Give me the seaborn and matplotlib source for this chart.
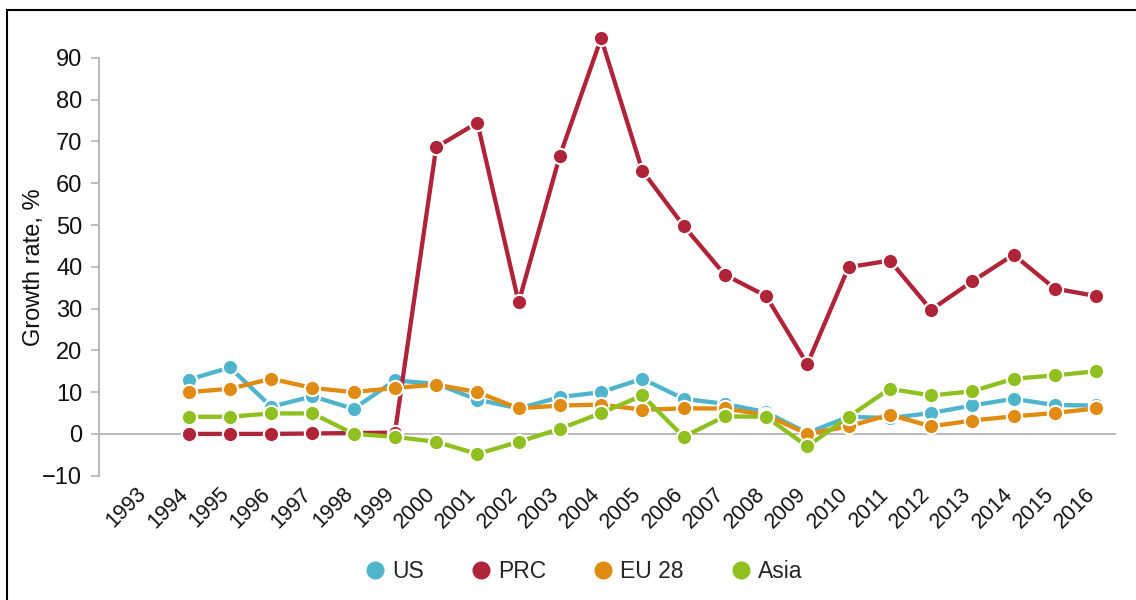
import matplotlib
matplotlib.use("Agg")
import matplotlib.pyplot as plt
from matplotlib.lines import Line2D
from matplotlib.transforms import ScaledTranslation
import numpy as np
import pandas as pd
import seaborn as sns

# Annual growth rates, %
years = list(range(1994, 2017))
us = [13.0, 15.9, 6.5, 9.0, 6.0, 12.8, 12.0, 8.2, 6.1, 8.8, 10.0, 13.2,
      8.4, 7.2, 5.2, 0.2, 4.1, 3.8, 5.0, 6.8, 8.4, 6.9, 6.8]
prc = [0.0, 0.0, 0.0, 0.1, 0.2, 0.3, 68.6, 74.5, 31.5, 66.6, 94.7, 63.0,
       49.8, 38.1, 33.0, 16.7, 39.9, 41.5, 29.7, 36.5, 42.9, 34.8, 33.0]
eu28 = [10.0, 10.8, 13.2, 11.0, 10.0, 11.0, 11.8, 10.0, 6.1, 6.8, 7.0, 5.8,
        6.1, 6.1, 4.5, 0.0, 1.8, 4.6, 1.8, 3.2, 4.2, 5.0, 6.1]
asia = [4.1, 4.1, 4.9, 4.9, 0.0, -0.7, -1.9, -4.8, -1.9, 1.2, 5.0, 9.2,
        -0.7, 4.2, 4.1, -3.0, 4.1, 10.8, 9.2, 10.2, 13.2, 14.0, 15.0]

series_names = ["US", "PRC", "EU 28", "Asia"]
series_colors = ["#4fb5cd", "#b0243a", "#e08b12", "#8fc020"]
tick_years = list(range(1993, 2017))
y_ticks = list(range(-10, 91, 10))

df = pd.DataFrame({
    "year": years * 4,
    "value": us + prc + eu28 + asia,
    "series": sum([[n] * len(years) for n in series_names], []),
})

sns.set_theme(style="white")
plt.rcParams["font.family"] = ["Liberation Sans", "DejaVu Sans"]

fig = plt.figure(figsize=(11.36, 6.0), dpi=100)
ax = fig.add_axes([99 / 1136, 0.2072, (1116 - 99) / 1136, 0.745])

# zero reference line
ax.axhline(0, color="#b3b3b3", linewidth=1.3, zorder=1)

sns.lineplot(
    data=df, x="year", y="value", hue="series",
    hue_order=series_names, palette=series_colors,
    marker="o", markersize=11, markeredgecolor="white", markeredgewidth=1.5,
    linewidth=3.1, legend=False, ax=ax, zorder=3,
)

ax.set_xlim(1991.824, 2016.485)
ax.set_ylim(-10, 97)
ax.set_yticks(y_ticks)
ax.set_yticklabels(["\u221210" if t < 0 else str(t) for t in y_ticks])
ax.set_xticks(tick_years)
ax.set_xticklabels([str(y) for y in tick_years], rotation=45, ha="right",
                   va="center", rotation_mode="anchor")

for side in ["top", "right", "bottom"]:
    ax.spines[side].set_visible(False)
ax.spines["left"].set_color("#b3b3b3")
ax.spines["left"].set_linewidth(1.3)
ax.spines["left"].set_bounds(-10, 90)

ax.tick_params(axis="y", which="both", left=True, length=6, width=1.2,
               color="#b3b3b3", labelsize=17, pad=6, labelcolor="#111111")
ax.tick_params(axis="x", which="both", bottom=False, length=0,
               labelsize=15.5, pad=11, labelcolor="#111111")

# nudge the slanted year labels so their ends sit under each tick
shift = ScaledTranslation(-4 / 100, 0, fig.dpi_scale_trans)
for lbl in ax.get_xticklabels():
    lbl.set_transform(lbl.get_transform() + shift)

ax.set_xlabel("")
ax.set_ylabel("Growth rate, %", fontsize=17, color="#111111")
ax.yaxis.set_label_coords(-0.0531, 0.467)

handles = [Line2D([], [], linestyle="none", marker="o", markersize=12,
                  markerfacecolor=c, markeredgecolor=c)
           for c in series_colors]
fig.legend(handles, series_names, loc="center", bbox_to_anchor=(583 / 1136, 1 - 572 / 600),
           ncol=4, frameon=False, fontsize=16.5, handletextpad=0.24,
           columnspacing=2.0, handlelength=1.0)

# frame lines along the left and top edges
fig.add_artist(Line2D([7 / 1136, 7 / 1136], [0, 1 - 10 / 600], color="black",
                      linewidth=1.5, transform=fig.transFigure))
fig.add_artist(Line2D([7 / 1136, 1.0], [1 - 10 / 600, 1 - 10 / 600], color="black",
                      linewidth=1.5, transform=fig.transFigure))

fig.savefig("out.png", dpi=100, facecolor="white")
